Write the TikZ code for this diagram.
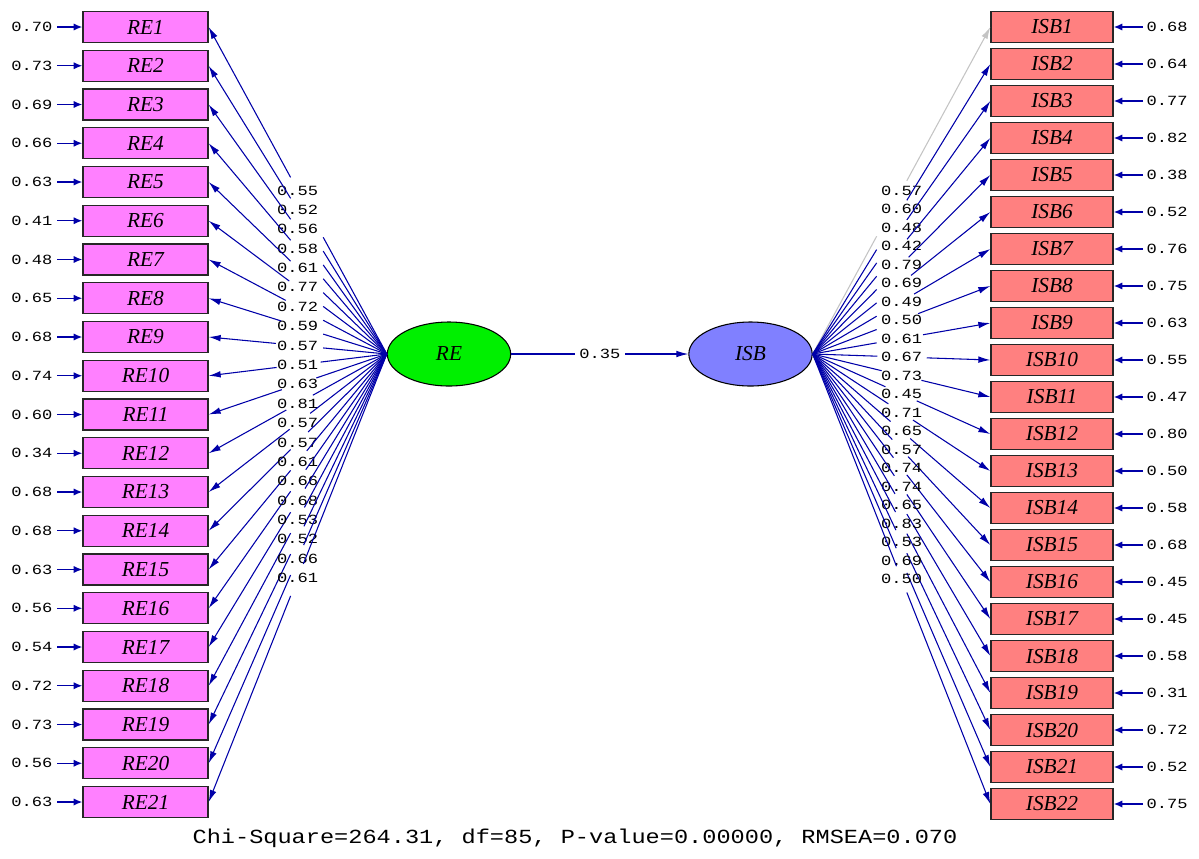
\documentclass[tikz,border=0pt]{standalone}
\usepackage{fontspec}
\setmainfont{Liberation Serif}
\newfontfamily\numfont[FakeStretch=1.22]{Liberation Mono}
\newfontfamily\bottomfont[FakeStretch=1.18]{Liberation Mono}
\usetikzlibrary{arrows.meta,shapes.geometric}
\definecolor{repink}{HTML}{FF80FF}
\definecolor{isbred}{HTML}{FF8080}
\definecolor{regreen}{HTML}{00F000}
\definecolor{isbblue}{HTML}{8080FF}
\definecolor{pathblue}{HTML}{0000A8}
\definecolor{fixgray}{HTML}{C4C4C4}
\begin{document}
\begin{tikzpicture}[x=0.75pt,y=-0.75pt,
  obsbox/.style={draw=black!85, line width=1pt, inner sep=0pt,
     minimum height=23.25pt, font=\fontsize{16}{16}\selectfont\itshape},
  rebox/.style={obsbox, fill=repink, minimum width=93.75pt},
  isbbox/.style={obsbox, fill=isbred, minimum width=91.5pt},
  latent/.style={ellipse, draw=black, line width=0.8pt, inner sep=0pt,
     minimum width=92.5pt, minimum height=48pt, font=\fontsize{16}{16}\selectfont\itshape},
  numlbl/.style={inner sep=1pt, font=\numfont\fontsize{10.5}{10.5}\selectfont},
  conn/.style={draw=pathblue, line width=0.8pt},
  tip/.style={-{Latex[length=9pt,width=5pt]}},
  errarrow/.style={draw=pathblue, line width=1.1pt, -{Latex[length=6.5pt,width=5.5pt]}}
]
\path[use as bounding box] (0,0) rectangle (1199,858);

% latent variables
\node[latent, fill=regreen] (RE) at (449,354) {RE};
\node[latent, fill=isbblue] (ISB) at (750.5,354) {ISB};

% structural path
\path (RE.east) -- (ISB.west) coordinate[pos=0.362] (pa) coordinate[pos=0.643] (pb)
  node[pos=0.5, numlbl] (lp) {0.35};
\draw[conn] (RE.east) -- (pa);
\draw[conn, tip] (pb) -- (ISB.west);

% RE indicators
\foreach \e [count=\i] in {0.70,0.73,0.69,0.66,0.63,0.41,0.48,0.65,0.68,0.74,0.60,0.34,0.68,0.68,0.63,0.56,0.54,0.72,0.73,0.56,0.63} {
  \pgfmathsetmacro{\yy}{27+38.75*(\i-1)}
  \node[rebox] (RE\i) at (145.5,\yy) {RE\i};
  \coordinate (eRE\i) at (57,\yy);
  \node[numlbl, anchor=east] (tRE\i) at (54,\yy) {\e};
  \draw[errarrow] (eRE\i) -- (RE\i.west);
}
\foreach \l [count=\i] in {0.55,0.52,0.56,0.58,0.61,0.77,0.72,0.59,0.57,0.51,0.63,0.81,0.57,0.57,0.61,0.66,0.68,0.53,0.52,0.66,0.61} {
  \pgfmathsetmacro{\dy}{(27+38.75*(\i-1)-354)/100}
  \pgfmathsetmacro{\sn}{\dy/sqrt(1.793*1.793+\dy*\dy)}
  \pgfmathsetmacro{\ta}{0.357+0.12*max(\sn,0)}
  \pgfmathsetmacro{\tb}{max(0.54,0.637-0.15*abs(\sn))}
  \path (RE.west) -- (RE\i.east) coordinate[pos=\ta] (la\i) coordinate[pos=\tb] (lb\i)
    node[pos=0.5, numlbl] (lRE\i) {\l};
  \draw[conn] (RE.west) -- (la\i);
  \draw[conn, tip] (lb\i) -- (RE\i.east);
}

% ISB indicators
\foreach \e [count=\j] in {0.68,0.64,0.77,0.82,0.38,0.52,0.76,0.75,0.63,0.55,0.47,0.80,0.50,0.58,0.68,0.45,0.45,0.58,0.31,0.72,0.52,0.75} {
  \pgfmathsetmacro{\yy}{27+37*(\j-1)}
  \node[isbbox] (ISB\j) at (1052,\yy) {ISB\j};
  \coordinate (eISB\j) at (1143,\yy);
  \node[numlbl, anchor=west] (tISB\j) at (1145,\yy) {\e};
  \draw[errarrow] (eISB\j) -- (ISB\j.east);
}
\foreach \l [count=\j] in {0.57,0.60,0.48,0.42,0.79,0.69,0.49,0.50,0.61,0.67,0.73,0.45,0.71,0.65,0.57,0.74,0.74,0.65,0.83,0.53,0.69,0.50} {
  \pgfmathsetmacro{\dy}{(27+37*(\j-1)-354)/100}
  \pgfmathsetmacro{\sn}{\dy/sqrt(1.778*1.778+\dy*\dy)}
  \pgfmathsetmacro{\ta}{0.36+0.12*max(\sn,0)}
  \pgfmathsetmacro{\tb}{max(0.53,0.647-0.15*abs(\sn))}
  \path (ISB.east) -- (ISB\j.west) coordinate[pos=\ta] (ra\j) coordinate[pos=\tb] (rb\j)
    node[pos=0.5, numlbl] (lISB\j) {\l};
  \ifnum\j=1
    \draw[conn, draw=fixgray] (ISB.east) -- (ra\j);
    \draw[conn, draw=fixgray, tip] (rb\j) -- (ISB\j.west);
  \else
    \draw[conn] (ISB.east) -- (ra\j);
    \draw[conn, tip] (rb\j) -- (ISB\j.west);
  \fi
}

% fit statistics
\node[inner sep=0pt, font=\bottomfont\fontsize{15}{15}\selectfont] (fit) at (575,838)
  {Chi-Square=264.31, df=85, P-value=0.00000, RMSEA=0.070};
\end{tikzpicture}
\end{document}
